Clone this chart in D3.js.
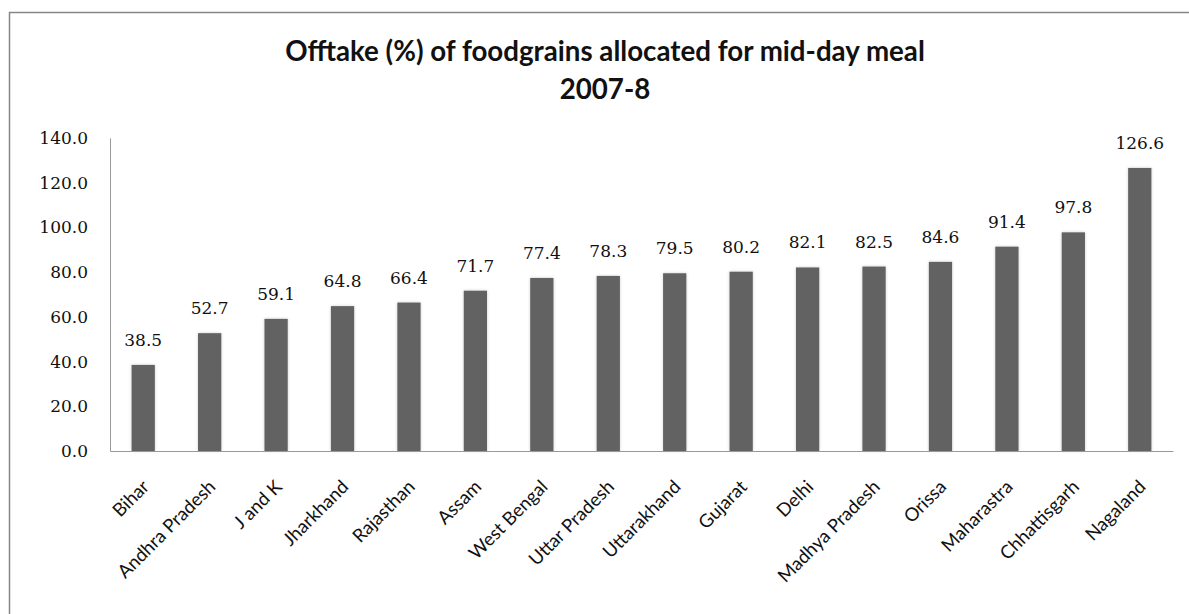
<!DOCTYPE html>
<html><head><meta charset="utf-8">
<script src="https://cdn.jsdelivr.net/npm/d3@7"></script>
<style>body{margin:0;background:#fff;} svg{display:block;}</style>
</head><body>
<svg id="c" width="1189" height="614"></svg>
<script>
const categories = ["Bihar","Andhra Pradesh","J and K","Jharkhand","Rajasthan","Assam","West Bengal","Uttar Pradesh","Uttarakhand","Gujarat","Delhi","Madhya Pradesh","Orissa","Maharastra","Chhattisgarh","Nagaland"];
const values = [38.5,52.7,59.1,64.8,66.4,71.7,77.4,78.3,79.5,80.2,82.1,82.5,84.6,91.4,97.8,126.6];
const yTicks = [0,20,40,60,80,100,120,140];
const titleLines = ["Offtake (%) of foodgrains allocated for mid-day meal","2007-8"];

const svg = d3.select("#c");
const m = {left:110, right:1173, top:138, bottom:451};
const x = d3.scaleBand().domain(categories).range([m.left, m.right]).paddingInner(0.65).paddingOuter(0.325);
const y = d3.scaleLinear().domain([0,140]).range([m.bottom, m.top]);

const defs = svg.append("defs");
const f = defs.append("filter").attr("id","sh").attr("x","-30%").attr("y","-10%").attr("width","160%").attr("height","120%");
f.append("feGaussianBlur").attr("in","SourceAlpha").attr("stdDeviation",1.5).attr("result","b");
f.append("feFlood").attr("flood-color","#000").attr("flood-opacity",0.2);
f.append("feComposite").attr("in2","b").attr("operator","in").attr("result","s");
const mg = f.append("feMerge"); mg.append("feMergeNode").attr("in","s"); mg.append("feMergeNode").attr("in","SourceGraphic");

// outer border
svg.append("rect").attr("x",9.5).attr("y",12.5).attr("width",1200).attr("height",700)
  .attr("fill","none").attr("stroke","#868686").attr("stroke-width",1.5);

// title
const t = svg.append("text").attr("text-anchor","middle").attr("font-family","Lato, sans-serif")
  .attr("font-weight","bold").attr("font-size",24).attr("fill","#111");
titleLines.forEach((l,i)=> t.append("tspan").attr("x",605).attr("y",61+i*38).text(l));
const tw = t.select("tspan").node().getComputedTextLength();
t.attr("font-size", 24*640/tw);

// y axis
const ya = d3.axisLeft(y).tickValues(yTicks).tickFormat(d3.format(".1f")).tickSize(0).tickPadding(22);
const yg = svg.append("g").attr("transform",`translate(${m.left},0)`).call(ya);
yg.select(".domain").attr("stroke","#999");
yg.selectAll("text").attr("font-family","'DejaVu Serif', serif").attr("font-size",17).attr("fill","#111");

// bars
svg.append("g").selectAll("rect").data(values).join("rect")
  .attr("x",(d,i)=>x(categories[i])).attr("width",x.bandwidth())
  .attr("y",d=>y(d)).attr("height",d=>y(0)-y(d))
  .attr("fill","#626262").attr("filter","url(#sh)");

// x axis
const xa = d3.axisBottom(x).tickSize(0).tickPadding(0);
const xg = svg.append("g").attr("transform",`translate(0,${m.bottom})`).call(xa);
xg.select(".domain").attr("stroke","#999").attr("stroke-width",1.2);
xg.selectAll("text").attr("font-family","Lato, sans-serif").attr("font-size",18.5).attr("fill","#111")
  .attr("text-anchor","end").attr("dy",0)
  .attr("transform","translate(7,37) rotate(-45)");

// value labels
svg.append("g").selectAll("text").data(values).join("text")
  .attr("x",(d,i)=>x(categories[i])+x.bandwidth()/2).attr("y",d=>y(d)-19)
  .attr("text-anchor","middle").attr("font-family","'DejaVu Serif', serif").attr("font-size",17).attr("fill","#111")
  .text(d=>d3.format(".1f")(d));
</script>
</body></html>
